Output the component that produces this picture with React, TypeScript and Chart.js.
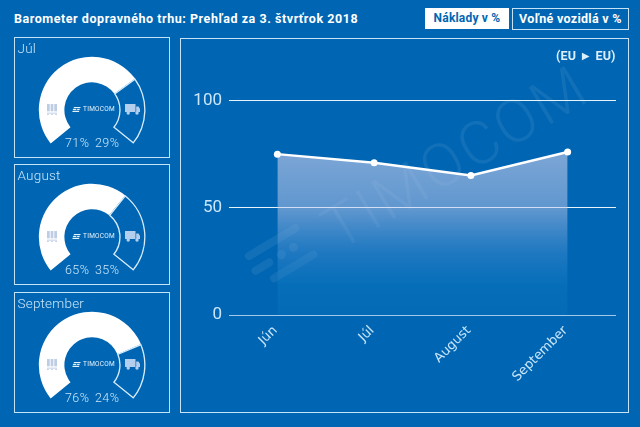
import React, { useEffect, useRef } from "react";
import { Chart, registerables } from "chart.js";

Chart.register(...registerables);

const titleText = "Barometer dopravného trhu: Prehľad za 3. štvrťrok 2018";
const months = ["Jún", "Júl", "August", "September"];
const lineValues = [75, 71, 65, 76];
const yTicks = [0, 50, 100];
const gaugeMonths = ["Júl", "August", "September"];
const gaugeLoads = [71, 65, 76];
const gaugeVehicles = [29, 35, 24];
const gaugeTops = [37, 164, 292];

const BG = "#0066b3";
const FRAME = "#c4e3f7";
const LABEL = "#c9e6fa";
const FONT = "Roboto, sans-serif";

function Pallet() {
  return (
    <svg width="10" height="11" viewBox="0 0 11 12" style={{ display: "block" }}>
      <g fill="#bccde4">
        <rect x="0" y="0" width="3" height="8" />
        <rect x="4" y="0" width="3" height="8" />
        <rect x="8" y="0" width="3" height="8" />
        <rect x="0" y="9.5" width="11" height="1" />
        <rect x="0" y="11" width="2" height="1" />
        <rect x="4.5" y="11" width="2" height="1" />
        <rect x="9" y="11" width="2" height="1" />
      </g>
    </svg>
  );
}

function Truck() {
  return (
    <svg width="15" height="11" viewBox="0 0 15 11" style={{ display: "block" }}>
      <g fill="#b4cfee">
        <rect x="0" y="0" width="10.5" height="8" />
        <path d="M11.2 2.5 H13.5 L15 5 V8 H11.2 Z" />
        <circle cx="3.2" cy="9" r="1.7" />
        <circle cx="12" cy="9" r="1.7" />
      </g>
    </svg>
  );
}

function Logo({ size }: { size: number }) {
  return (
    <div style={{ display: "flex", alignItems: "center", gap: 2 }}>
      <svg width="9" height="5" viewBox="0 0 10 6">
        <g fill="#e6f2fb">
          <path d="M2 0 H10 L9.6 1.2 H1.6 Z" />
          <path d="M1 2.2 H5 L4.6 3.6 H0.6 Z" />
          <path d="M6 2.2 H9 L8.6 3.6 H5.6 Z" />
          <path d="M0.4 4.6 H8.4 L8 6 H0 Z" />
        </g>
      </svg>
      <span style={{ font: `400 ${size}px ${FONT}`, color: "#e6f2fb", letterSpacing: 0.25 }}>TIMOCOM</span>
    </div>
  );
}

function Gauge({ index }: { index: number }) {
  const ref = useRef<HTMLCanvasElement>(null);
  const top = gaugeTops[index];
  useEffect(() => {
    const chart = new Chart(ref.current!, {
      type: "doughnut",
      data: {
        labels: ["Náklady", "Voľné vozidlá"],
        datasets: [
          {
            data: [gaugeLoads[index], gaugeVehicles[index]],
            backgroundColor: ["#ffffff", BG],
            borderColor: ["#ffffff", "#d6ecfb"],
            borderWidth: [0, 1],
            borderAlign: "inner",
          },
        ],
      },
      options: {
        animation: false,
        responsive: false,
        rotation: -129,
        circumference: 258,
        radius: 53.5,
        cutout: "51%",
        layout: { padding: 0 },
        plugins: { legend: { display: false }, tooltip: { enabled: false } },
      } as any,
    });
    return () => chart.destroy();
  }, [index]);

  const abs = (s: React.CSSProperties): React.CSSProperties => ({ position: "absolute", ...s });
  return (
    <>
      <div
        style={abs({
          left: 14,
          top,
          width: 156,
          height: 121,
          boxSizing: "border-box",
          border: `1.5px solid ${FRAME}`,
        })}
      />
      <canvas
        ref={ref}
        width={120}
        height={100}
        style={abs({ left: 31.5, top: top + 13, width: 120, height: 100 })}
      />
      <div style={abs({ left: 17.5, top: top + 1.5, font: `300 13.5px ${FONT}`, color: LABEL, letterSpacing: 0.2, lineHeight: "18px" })}>
        {gaugeMonths[index]}
      </div>
      <div style={abs({ left: 47, top: top + 67 })}>
        <Pallet />
      </div>
      <div style={abs({ left: 125, top: top + 67 })}>
        <Truck />
      </div>
      <div style={abs({ left: 72, top: top + 68 })}>
        <Logo size={6.5} />
      </div>
      <div style={abs({ left: 65, top: top + 99, font: `300 12.5px ${FONT}`, color: LABEL, lineHeight: "14px", letterSpacing: 0.4 })}>
        {gaugeLoads[index]}%
      </div>
      <div style={abs({ left: 95, top: top + 99, font: `300 12.5px ${FONT}`, color: LABEL, lineHeight: "14px", letterSpacing: 0.4 })}>
        {gaugeVehicles[index]}%
      </div>
    </>
  );
}

function MainChart() {
  const ref = useRef<HTMLCanvasElement>(null);
  useEffect(() => {
    const chart = new Chart(ref.current!, {
      type: "line",
      data: {
        labels: months,
        datasets: [
          {
            data: lineValues,
            borderColor: "#ffffff",
            borderWidth: 2.5,
            tension: 0,
            pointRadius: 3.5,
            pointBackgroundColor: "#ffffff",
            pointBorderWidth: 0,
            fill: "origin",
            backgroundColor: (ctx: any) => {
              const { chart: c } = ctx;
              const area = c.chartArea;
              if (!area) return "rgba(255,255,255,0.3)";
              const g = c.ctx.createLinearGradient(0, 115, 0, area.bottom);
              g.addColorStop(0, "rgba(200,205,235,0.62)");
              g.addColorStop(0.35, "rgba(190,200,235,0.5)");
              g.addColorStop(0.62, "rgba(80,150,215,0.38)");
              g.addColorStop(0.82, "rgba(20,130,200,0.3)");
              g.addColorStop(1, "rgba(20,130,200,0.18)");
              return g;
            },
          },
        ],
      },
      options: {
        animation: false,
        responsive: false,
        layout: { padding: { top: 62.5, right: 12, left: 0, bottom: 0 } },
        plugins: { legend: { display: false }, tooltip: { enabled: false } },
        scales: {
          x: {
            offset: true,
            grid: { display: false },
            border: { display: false },
            afterFit: (s: any) => {
              s.height = 98;
            },
            ticks: {
              color: LABEL,
              font: { family: "DejaVu Sans", size: 13 },
              minRotation: 45,
              maxRotation: 45,
              padding: 0,
              labelOffset: -2,
            },
          },
          y: {
            min: 0,
            max: 100,
            afterBuildTicks: (s: any) => {
              s.ticks = yTicks.map((value) => ({ value }));
            },
            afterFit: (s: any) => {
              s.width = 49;
            },
            grid: {
              drawTicks: false,
              lineWidth: 1,
              color: (c: any) => (c.tick.value === 0 ? "#a3c9ea" : "#e8f4fc"),
            },
            border: { display: false },
            ticks: {
              color: LABEL,
              font: { family: "Roboto", size: 17, weight: "400" },
              padding: 7,
            },
          },
        },
      } as any,
    });
    return () => chart.destroy();
  }, []);
  return (
    <canvas
      ref={ref}
      width={448}
      height={375}
      style={{ position: "absolute", left: 180, top: 38, width: 448, height: 375 }}
    />
  );
}

const bar = (left: number, top: number, width: number): React.CSSProperties => ({
  position: "absolute",
  left,
  top,
  width,
  height: 8,
  borderRadius: 4,
  background: "rgba(255,255,255,0.07)",
});
const dot = (left: number, top: number): React.CSSProperties => ({
  position: "absolute",
  left,
  top,
  width: 9,
  height: 9,
  borderRadius: 5,
  background: "rgba(255,255,255,0.08)",
});

export default function App() {
  useEffect(() => {
    document.body.style.margin = "0";
    document.body.style.background = BG;
  }, []);
  return (
    <div style={{ position: "relative", width: 640, height: 427, overflow: "hidden", background: BG }}>
      <div
        style={{
          position: "absolute",
          left: 14,
          top: 12,
          font: `700 12.5px ${FONT}`,
          color: "#fff",
          letterSpacing: 0.55,
          lineHeight: "14px",
          whiteSpace: "nowrap",
        }}
      >
        {titleText}
      </div>
      <div
        style={{
          position: "absolute",
          left: 425,
          top: 8,
          width: 84,
          height: 21,
          background: "#fff",
          color: BG,
          font: `700 12px/21px ${FONT}`,
          letterSpacing: 0.2,
          textAlign: "center",
        }}
      >
        Náklady v %
      </div>
      <div
        style={{
          position: "absolute",
          left: 512,
          top: 7.5,
          width: 117,
          height: 22,
          boxSizing: "border-box",
          border: `1.5px solid ${FRAME}`,
          color: "#fff",
          font: `700 12.5px/19px ${FONT}`,
          letterSpacing: 0.3,
          textAlign: "center",
          whiteSpace: "nowrap",
        }}
      >
        Voľné vozidlá v %
      </div>
      <div
        style={{
          position: "absolute",
          left: 180,
          top: 37.5,
          width: 448.5,
          height: 375.5,
          boxSizing: "border-box",
          border: `1.5px solid ${FRAME}`,
        }}
      />
      <div
        style={{
          position: "absolute",
          left: 344,
          top: 200,
          font: `300 60px ${FONT}`,
          color: "rgba(255,255,255,0.07)",
          letterSpacing: 3,
          transform: "rotate(-31deg)",
          transformOrigin: "0 100%",
          whiteSpace: "nowrap",
          lineHeight: "60px",
        }}
      >
        TIMOCOM
      </div>
      <div style={{ position: "absolute", left: 246, top: 226, width: 76, height: 60, transform: "rotate(-31deg)" }}>
        <div style={bar(4, 8, 62)} />
        <div style={bar(2, 24, 24)} />
        <div style={dot(32, 23)} />
        <div style={dot(46, 23)} />
        <div style={bar(14, 40, 54)} />
      </div>
      <MainChart />
      <div
        style={{
          position: "absolute",
          left: 556,
          top: 49,
          font: `700 12.5px/14px ${FONT}`,
          color: "#dceffc",
          letterSpacing: 0.2,
          whiteSpace: "nowrap",
        }}
      >
        (EU ► EU)
      </div>
      {gaugeMonths.map((_, i) => (
        <Gauge key={i} index={i} />
      ))}
    </div>
  );
}
